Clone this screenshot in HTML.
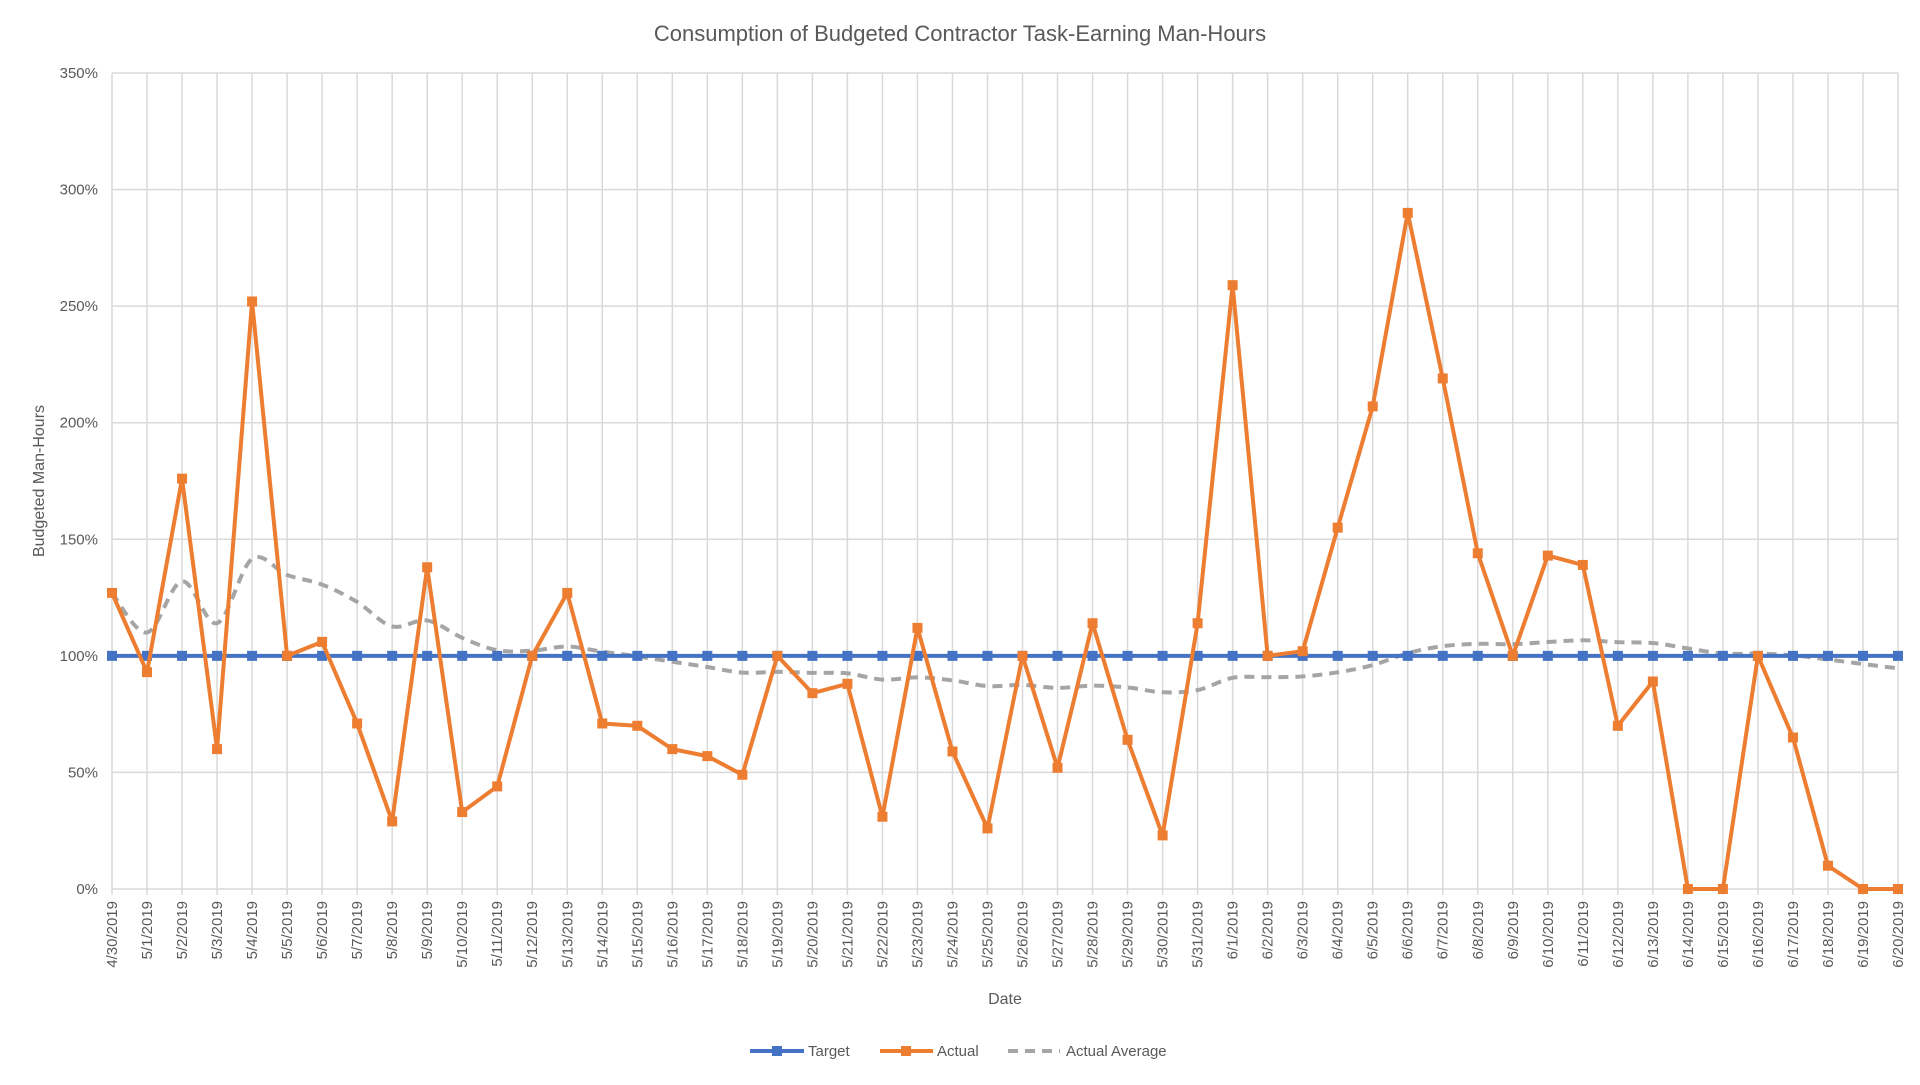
<!DOCTYPE html>
<html><head><meta charset="utf-8"><style>
html,body{margin:0;padding:0;background:#fff;}
svg text{font-family:"Liberation Sans",sans-serif;fill:#595959;}
</style></head><body>
<svg id="s" width="1920" height="1080" xmlns="http://www.w3.org/2000/svg">
<text x="960" y="41" text-anchor="middle" font-size="22">Consumption of Budgeted Contractor Task-Earning Man-Hours</text>
<text x="1005" y="1004" text-anchor="middle" font-size="16">Date</text>
<text transform="translate(44,481) rotate(-90)" text-anchor="middle" font-size="16">Budgeted Man-Hours</text>
<g id="g"></g>
<g font-size="15">
<line x1="750" y1="1051" x2="804" y2="1051" stroke="#4472C4" stroke-width="4"/><rect x="772" y="1046" width="10" height="10" fill="#4472C4"/>
<text x="808" y="1056">Target</text>
<line x1="880" y1="1051" x2="933" y2="1051" stroke="#ED7D31" stroke-width="4"/><rect x="901" y="1046" width="10" height="10" fill="#ED7D31"/>
<text x="937" y="1056">Actual</text>
<line x1="1008" y1="1051" x2="1060" y2="1051" stroke="#A5A5A5" stroke-width="4" stroke-dasharray="10,7"/>
<text x="1066" y="1056">Actual Average</text>
</g>
</svg>
<script>
var A=[127,93,176,60,252,100,106,71,29,138,33,44,100,127,71,70,60,57,49,100,84,88,31,112,59,26,100,52,114,64,23,114,259,100,102,155,207,290,219,144,100,143,139,70,89,0,0,100,65,10,0,0];
var L=112,R=1898,T=73,B=889,n=A.length,dx=(R-L)/(n-1);
function X(i){return L+i*dx}function Y(v){return B-(v/350)*(B-T)}
var h='';
for(var v=0;v<=350;v+=50){var y=Y(v);h+='<line x1="'+L+'" y1="'+y+'" x2="'+R+'" y2="'+y+'" stroke="#d9d9d9" stroke-width="1.5"/>';
h+='<text x="'+(L-14)+'" y="'+(y+5)+'" text-anchor="end" font-size="15">'+v+'%</text>';}
var d=new Date(2019,3,30);
for(var i=0;i<n;i++){var x=X(i);h+='<line x1="'+x+'" y1="'+T+'" x2="'+x+'" y2="'+(B+6)+'" stroke="#d9d9d9" stroke-width="1.5"/>';
var lab=(d.getMonth()+1)+'/'+d.getDate()+'/2019';d.setDate(d.getDate()+1);
h+='<text transform="translate('+(x+5)+','+(B+12)+') rotate(-90)" text-anchor="end" font-size="15">'+lab+'</text>';}
var s=0,P=[];for(i=0;i<n;i++){s+=A[i];P.push([X(i),Y(s/(i+1))]);}
var p='M'+P[0][0]+','+P[0][1];
for(i=0;i<n-1;i++){var p0=P[Math.max(0,i-1)],p1=P[i],p2=P[i+1],p3=P[Math.min(n-1,i+2)];
var c1x=p1[0]+(p2[0]-p0[0])/6,c1y=p1[1]+(p2[1]-p0[1])/6,c2x=p2[0]-(p3[0]-p1[0])/6,c2y=p2[1]-(p3[1]-p1[1])/6;
p+=' C'+c1x+','+c1y+' '+c2x+','+c2y+' '+p2[0]+','+p2[1];}
h+='<path d="'+p+'" fill="none" stroke="#A5A5A5" stroke-width="4" stroke-dasharray="10,7"/>';
h+='<line x1="'+L+'" y1="'+Y(100)+'" x2="'+R+'" y2="'+Y(100)+'" stroke="#4472C4" stroke-width="4"/>';
for(i=0;i<n;i++)h+='<rect x="'+(X(i)-5)+'" y="'+(Y(100)-5)+'" width="10" height="10" fill="#4472C4"/>';
var pb=[];for(i=0;i<n;i++)pb.push(X(i)+','+Y(A[i]));
h+='<polyline points="'+pb.join(' ')+'" fill="none" stroke="#ED7D31" stroke-width="4" stroke-linejoin="round"/>';
for(i=0;i<n;i++)h+='<rect x="'+(X(i)-5)+'" y="'+(Y(A[i])-5)+'" width="10" height="10" fill="#ED7D31"/>';
document.getElementById('g').innerHTML=h;
</script>
</body></html>
